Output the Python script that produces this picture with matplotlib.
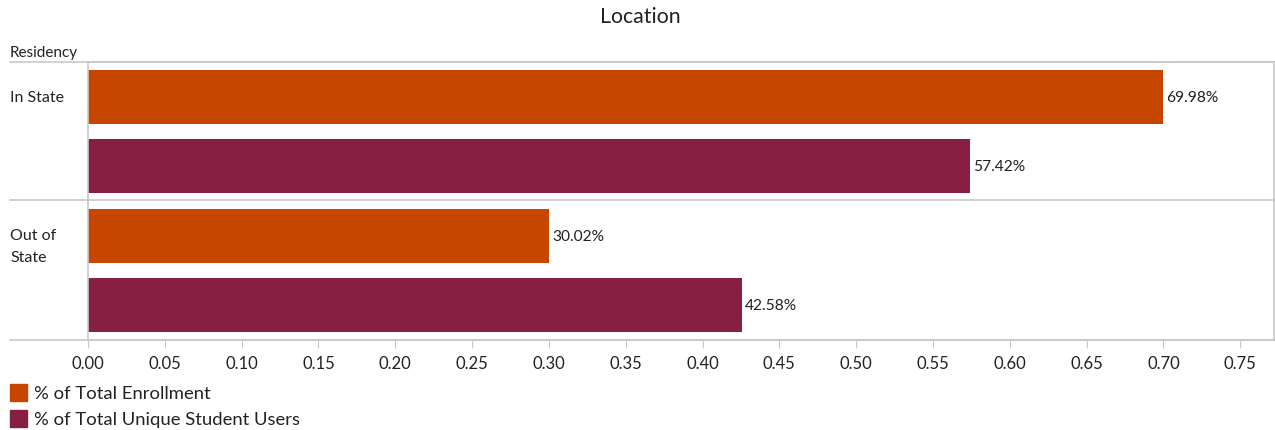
import matplotlib.pyplot as plt
from matplotlib.lines import Line2D
from matplotlib.patches import Rectangle

plt.rcParams["font.family"] = ["Lato", "DejaVu Sans"]

residency = ["In State", "Out of\nState"]
series_names = ["% of Total Enrollment", "% of Total Unique Student Users"]
enrollment = [0.6998, 0.3002]
unique_users = [0.5742, 0.4258]
ticks = [0.00, 0.05, 0.10, 0.15, 0.20, 0.25, 0.30, 0.35, 0.40, 0.45, 0.50,
         0.55, 0.60, 0.65, 0.70, 0.75]

orange = "#C64600"
maroon = "#861F41"
line_c = "#c8c8c8"
text_c = "#222222"

W, H = 1275, 431
fig = plt.figure(figsize=(W / 100, H / 100), dpi=100)

def fx(px):
    return px / W

def fy(py):
    return 1 - py / H

ax = fig.add_axes([fx(88), fy(341), fx(1274) - fx(88), fy(63) - fy(341)])
ax.set_xlim(0, 0.772)
ax.set_ylim(4, 0)

bar_h = 0.77
for i in range(len(residency)):
    base = i * 2
    for j, (vals, col) in enumerate([(enrollment, orange), (unique_users, maroon)]):
        y = base + 0.5 + j
        ax.barh(y, vals[i], height=bar_h, color=col, edgecolor="none")
        ax.text(vals[i] + 0.002, y, f"{vals[i] * 100:.2f}%", va="center",
                ha="left", fontsize=11.2, color=text_c)

for s in ["top", "bottom", "left", "right"]:
    ax.spines[s].set_color(line_c)
    ax.spines[s].set_linewidth(1.2)
ax.set_yticks([])
ax.set_xticks(ticks)
ax.set_xticklabels([f"{t:.2f}" for t in ticks], fontsize=12, color=text_c)
ax.tick_params(axis="x", length=6, color=line_c, pad=5)

# horizontal rules spanning the header column
for py in (63, 201, 341):
    fig.add_artist(Line2D([fx(10), fx(1274)], [fy(py), fy(py)],
                          color=line_c, lw=1.2))

fig.text(fx(640), fy(17), "Location", ha="center", va="center",
         fontsize=15.3, color=text_c)
fig.text(fx(10), fy(53), "Residency", ha="left", va="center",
         fontsize=11, color=text_c)
fig.text(fx(10), fy(98), residency[0], ha="left", va="center",
         fontsize=11.5, color=text_c)
fig.text(fx(10), fy(247), residency[1], ha="left", va="center",
         fontsize=11.5, color=text_c, linespacing=1.75)

# legend
for k, (name, col) in enumerate(zip(series_names, [orange, maroon])):
    top = 385 + k * 26
    fig.add_artist(Rectangle((fx(10), fy(top + 17)), fx(17), fy(top) - fy(top + 17),
                             color=col, transform=fig.transFigure))
    fig.text(fx(34), fy(top + 9), name, ha="left", va="center",
             fontsize=13.3, color=text_c)

fig.savefig("out.png", dpi=100)
